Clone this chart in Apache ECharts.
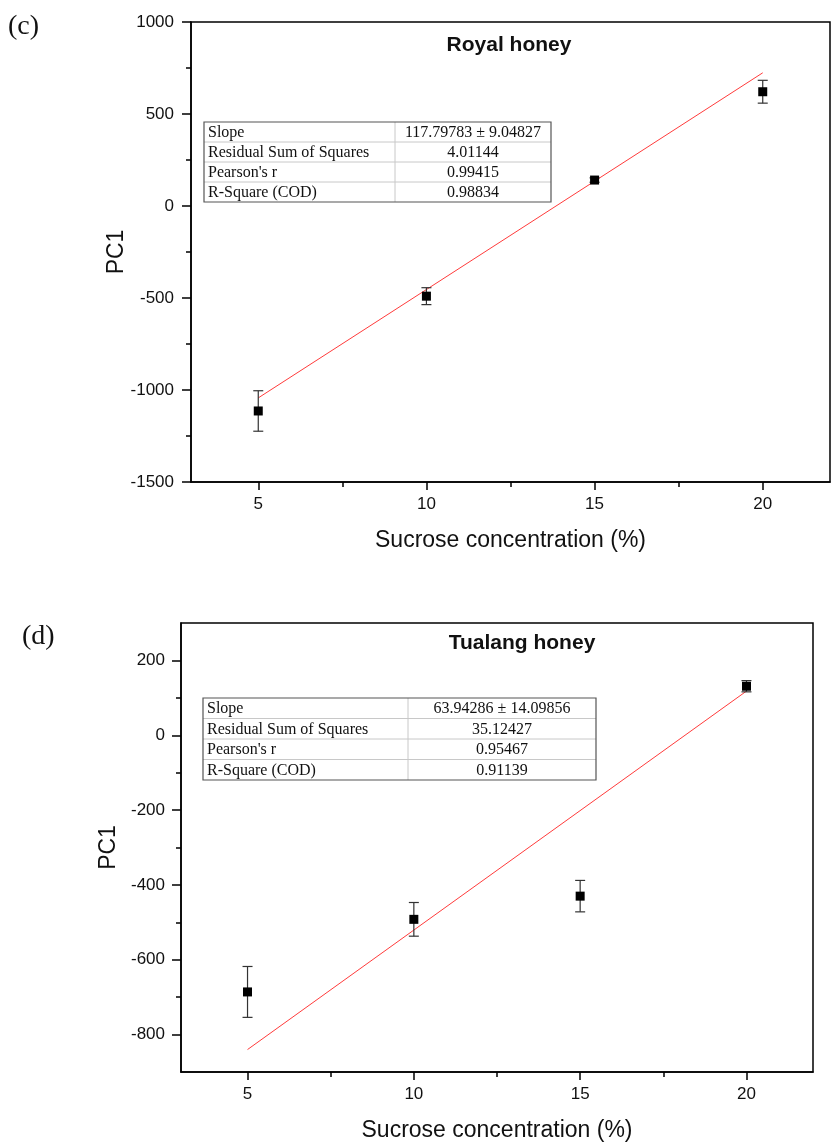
<!DOCTYPE html>
<html>
<head>
<meta charset="utf-8">
<script src="https://cdn.jsdelivr.net/npm/echarts@6/dist/echarts.min.js"></script>
<style>
  html, body { margin: 0; padding: 0; background: #fff; }
  #chart { width: 834px; height: 1142px; }
</style>
</head>
<body>
<div id="chart"></div>
<script>
// data
var sucrose = [5, 10, 15, 20];
var xTicks = [5, 10, 15, 20];
var xMinorTicks = [7.5, 12.5, 17.5];

// (c) Royal honey
var royalPC1 = [-1114, -490, 141, 621];
var royalErr = [110, 46, 12, 62];
var fitX = [5, 20];
var royalFitY = [-1043, 724];

// (d) Tualang honey
var tualangPC1 = [-686, -492, -430, 131];
var tualangErr = [68, 45, 42, 15];
var tualangFitY = [-840, 118];
var tualangYTicks = [-800, -600, -400, -200, 0, 200];
var tualangYMinor = [-700, -500, -300, -100, 100];

// fit statistics tables
var statNames = ['Slope', 'Residual Sum of Squares', "Pearson's r", 'R-Square (COD)'];
var royalStats = ['117.79783 \u00b1 9.04827', '4.01144', '0.99415', '0.98834'];
var tualangStats = ['63.94286 \u00b1 14.09856', '35.12427', '0.95467', '0.91139'];

var SANS = 'Liberation Sans';
var SERIF = 'Liberation Serif';
var INK = '#111';

function pairs(xs, ys) {
  return xs.map(function (x, i) { return [x, ys[i]]; });
}
function triples(xs, ys, es) {
  return xs.map(function (x, i) { return [x, ys[i], es[i]]; });
}
function plain(v) { return String(v); }

// error bar with caps, positioned through the axes
function renderErr(params, api) {
  var x = api.value(0), y = api.value(1), e = api.value(2);
  var hi = api.coord([x, y + e]);
  var lo = api.coord([x, y - e]);
  var w = 5;
  var st = { stroke: '#333', lineWidth: 1.2, fill: null };
  return {
    type: 'group',
    children: [
      { type: 'line', shape: { x1: hi[0], y1: hi[1], x2: lo[0], y2: lo[1] }, style: st },
      { type: 'line', shape: { x1: hi[0] - w, y1: hi[1], x2: hi[0] + w, y2: hi[1] }, style: st },
      { type: 'line', shape: { x1: lo[0] - w, y1: lo[1], x2: lo[0] + w, y2: lo[1] }, style: st }
    ]
  };
}

function mainX(grid) {
  return {
    type: 'value', gridIndex: grid, min: 3, max: 22,
    name: 'Sucrose concentration (%)', nameLocation: 'middle', nameGap: 47, nameMoveOverlap: false,
    nameTextStyle: { fontFamily: SANS, fontSize: 23, color: INK },
    axisLine: { show: true, onZero: false, lineStyle: { color: '#000', width: 1.5 } },
    axisTick: { show: true, length: 8, customValues: xTicks, lineStyle: { color: '#000', width: 1.5 } },
    axisLabel: { customValues: xTicks, margin: 14, fontFamily: SANS, fontSize: 17, color: INK, formatter: plain },
    splitLine: { show: false }
  };
}
// short ticks at the bottom edge (top axis pushed down onto the bottom)
function minorX(grid, h) {
  return {
    type: 'value', gridIndex: grid, min: 3, max: 22, position: 'top', offset: -h,
    axisLine: { show: false, onZero: false },
    axisTick: { show: true, inside: true, length: 5, customValues: xMinorTicks, lineStyle: { color: '#000', width: 1.5 } },
    axisLabel: { show: false },
    splitLine: { show: false }
  };
}
function yName(gap) {
  return {
    name: 'PC1', nameLocation: 'middle', nameRotate: 90, nameGap: gap, nameMoveOverlap: false,
    nameTextStyle: { fontFamily: SANS, fontSize: 23, color: INK }
  };
}

function statTable(left, top, w1, w2, rowH, values) {
  var kids = [];
  var h = rowH * statNames.length;
  for (var i = 0; i < statNames.length; i++) {
    var y = i * rowH;
    if (i > 0) {
      kids.push({ type: 'line', shape: { x1: 0, y1: y, x2: w1 + w2, y2: y }, style: { stroke: '#c8c8c8', lineWidth: 1 } });
    }
    kids.push({ type: 'text', x: 4, y: y + rowH / 2 + 1,
      style: { text: statNames[i], fontFamily: SERIF, fontSize: 16, fill: INK, verticalAlign: 'middle' } });
    kids.push({ type: 'text', x: w1 + w2 / 2, y: y + rowH / 2 + 1,
      style: { text: values[i], fontFamily: SERIF, fontSize: 16, fill: INK, align: 'center', verticalAlign: 'middle' } });
  }
  kids.push({ type: 'line', shape: { x1: w1, y1: 0, x2: w1, y2: h }, style: { stroke: '#c8c8c8', lineWidth: 1 } });
  kids.push({ type: 'rect', shape: { x: 0, y: 0, width: w1 + w2, height: h }, style: { fill: null, stroke: '#555', lineWidth: 1.2 } });
  return { type: 'group', x: left, y: top, z: 10, children: kids };
}

var chart = echarts.init(document.getElementById('chart'), null, { renderer: 'canvas' });

chart.setOption({
  backgroundColor: '#fff',
  animation: false,
  grid: [
    { left: 191, top: 22, width: 639, height: 460, show: true, borderColor: '#000', borderWidth: 1.5, backgroundColor: 'transparent', containLabel: false, outerBoundsMode: 'none' },
    { left: 181, top: 623, width: 632, height: 449, show: true, borderColor: '#000', borderWidth: 1.5, backgroundColor: 'transparent', containLabel: false, outerBoundsMode: 'none' }
  ],
  xAxis: [mainX(0), minorX(0, 460), mainX(1), minorX(1, 449)],
  yAxis: [
    Object.assign({
      type: 'value', gridIndex: 0, min: -1500, max: 1000, interval: 500,
      axisLine: { show: true, onZero: false, lineStyle: { color: '#000', width: 1.5 } },
      axisTick: { show: true, length: 9, lineStyle: { color: '#000', width: 1.5 } },
      minorTick: { show: true, splitNumber: 2, length: 5, lineStyle: { color: '#000', width: 1.5 } },
      axisLabel: { margin: 17, fontFamily: SANS, fontSize: 17, color: INK, formatter: plain },
      splitLine: { show: false }
    }, yName(63)),
    Object.assign({
      type: 'value', gridIndex: 1, min: -900, max: 300,
      axisLine: { show: true, onZero: false, lineStyle: { color: '#000', width: 1.5 } },
      axisTick: { show: true, length: 9, customValues: tualangYTicks, lineStyle: { color: '#000', width: 1.5 } },
      axisLabel: { customValues: tualangYTicks, margin: 16, fontFamily: SANS, fontSize: 17, color: INK, formatter: plain },
      splitLine: { show: false }
    }, yName(61)),
    {
      type: 'value', gridIndex: 1, min: -900, max: 300, position: 'right', offset: -632,
      axisLine: { show: false, onZero: false },
      axisTick: { show: true, inside: true, length: 5, customValues: tualangYMinor, lineStyle: { color: '#000', width: 1.5 } },
      axisLabel: { show: false },
      splitLine: { show: false }
    }
  ],
  series: [
    { type: 'line', xAxisIndex: 0, yAxisIndex: 0, data: pairs(fitX, royalFitY), symbol: 'none', silent: true, z: 1,
      lineStyle: { color: '#ff3b3b', width: 1 } },
    { type: 'custom', xAxisIndex: 0, yAxisIndex: 0, renderItem: renderErr, data: triples(sucrose, royalPC1, royalErr), z: 2 },
    { type: 'scatter', xAxisIndex: 0, yAxisIndex: 0, data: pairs(sucrose, royalPC1), symbol: 'rect', symbolSize: 9, z: 3,
      itemStyle: { color: '#000', opacity: 1 } },

    { type: 'line', xAxisIndex: 2, yAxisIndex: 1, data: pairs(fitX, tualangFitY), symbol: 'none', silent: true, z: 1,
      lineStyle: { color: '#ff3b3b', width: 1 } },
    { type: 'custom', xAxisIndex: 2, yAxisIndex: 1, renderItem: renderErr, data: triples(sucrose, tualangPC1, tualangErr), z: 2 },
    { type: 'scatter', xAxisIndex: 2, yAxisIndex: 1, data: pairs(sucrose, tualangPC1), symbol: 'rect', symbolSize: 9, z: 3,
      itemStyle: { color: '#000', opacity: 1 } }
  ],
  graphic: [
    { type: 'text', x: 8, y: 27, style: { text: '(c)', fontFamily: SERIF, fontSize: 28, fill: INK, verticalAlign: 'middle' } },
    { type: 'text', x: 22, y: 637, style: { text: '(d)', fontFamily: SERIF, fontSize: 28, fill: INK, verticalAlign: 'middle' } },
    { type: 'text', x: 509, y: 45, style: { text: 'Royal honey', fontFamily: SANS, fontSize: 21, fontWeight: 'bold', fill: INK, align: 'center', verticalAlign: 'middle' } },
    { type: 'text', x: 522, y: 643, style: { text: 'Tualang honey', fontFamily: SANS, fontSize: 21, fontWeight: 'bold', fill: INK, align: 'center', verticalAlign: 'middle' } },
    statTable(204, 122, 191, 156, 20, royalStats),
    statTable(203, 698, 205, 188, 20.5, tualangStats)
  ]
});
</script>
</body>
</html>
